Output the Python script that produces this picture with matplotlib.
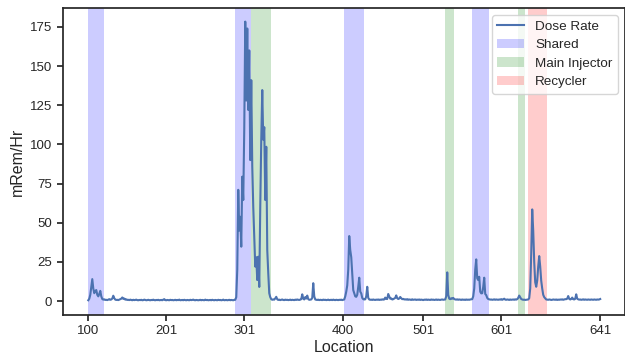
import matplotlib
matplotlib.use("Agg")
import matplotlib.pyplot as plt
import numpy as np

# ---- data ----
tick_positions = [0, 78, 156, 255, 335, 413, 512]
tick_labels = ["100", "201", "301", "400", "501", "601", "641"]

dose_rate = [
    0.5, 1.5, 4.0, 9.0, 14.0, 8.0, 5.0, 6.5, 7.0, 4.0,
    3.0, 4.5, 6.5, 3.0, 1.3, 0.9, 1.1, 0.7, 0.8, 0.6,
    0.9, 1.2, 0.8, 1.0, 1.6, 3.4, 1.8, 0.9, 0.7, 0.8,
    0.6, 0.9, 1.2, 1.5, 2.3, 1.4, 1.6, 0.9, 1.1, 0.7,
    0.8, 0.6, 0.9, 0.7, 0.5, 0.8, 0.6, 0.7, 0.9, 0.6,
    0.5, 0.7, 0.6, 0.8, 0.5, 0.6, 0.9, 0.7, 0.5, 0.6,
    0.8, 0.6, 0.5, 0.7, 0.6, 0.9, 0.6, 0.5, 0.7, 0.6,
    0.8, 0.5, 0.6, 0.7, 0.5, 0.9, 1.2, 0.6, 0.5, 0.7,
    0.6, 0.5, 0.8, 0.6, 0.7, 0.5, 0.6, 0.8, 0.5, 0.7,
    0.6, 0.9, 0.5, 0.6, 0.7, 0.5, 0.8, 0.6, 0.5, 0.7,
    0.6, 0.5, 0.8, 0.6, 0.7, 0.9, 0.6, 0.5, 0.7, 0.6,
    0.5, 0.6, 0.8, 0.5, 0.7, 0.6, 0.5, 0.9, 0.6, 0.7,
    0.5, 0.6, 0.7, 0.5, 0.8, 0.6, 0.5, 0.7, 0.6, 0.5,
    0.8, 0.6, 0.7, 0.5, 0.6, 0.9, 0.5, 0.6, 0.7, 0.5,
    0.6, 0.8, 0.5, 0.7, 0.6, 0.5, 0.7, 0.8, 2.5, 20.0,
    71.0, 45.0, 53.8, 34.7, 79.4, 64.5, 110.0, 178.4, 128.0, 174.0,
    122.0, 160.0, 90.0, 141.0, 86.0, 60.0, 40.0, 22.0, 28.0, 13.4,
    28.3, 9.0, 60.0, 103.0, 134.7, 103.0, 111.0, 64.5, 98.5, 32.6,
    17.9, 5.0, 2.5, 1.2, 0.8, 1.0, 0.9, 1.7, 2.7, 1.1,
    0.7, 0.9, 0.6, 0.8, 1.0, 0.7, 0.6, 0.9, 0.7, 0.8,
    0.6, 0.7, 0.9, 0.6, 0.8, 0.7, 0.6, 0.9, 0.7, 1.0,
    0.8, 0.7, 0.9, 1.2, 4.3, 1.5, 1.0, 2.5, 1.6, 3.5,
    1.2, 0.8, 0.9, 1.0, 2.0, 11.4, 3.0, 1.0, 0.8, 0.7,
    0.9, 0.6, 0.8, 0.7, 0.6, 0.9, 0.7, 0.8, 0.6, 0.7,
    0.9, 0.6, 0.7, 0.8, 0.6, 0.9, 0.7, 0.6, 0.8, 0.7,
    0.6, 0.8, 0.7, 0.9, 0.6, 0.8, 1.0, 3.0, 6.0, 10.0,
    20.0, 41.5, 32.6, 28.0, 17.9, 7.0, 5.0, 3.0, 2.7, 4.0,
    9.0, 14.9, 6.0, 4.9, 2.0, 1.2, 1.0, 1.1, 3.0, 9.1,
    2.0, 1.0, 0.8, 0.9, 0.7, 1.0, 0.8, 0.7, 0.9, 0.8,
    1.0, 0.7, 0.9, 0.8, 1.1, 0.9, 1.0, 2.2, 1.4, 1.3,
    4.5, 3.0, 1.5, 1.7, 1.0, 1.2, 1.6, 2.0, 3.6, 1.8,
    1.3, 1.6, 2.6, 1.8, 1.2, 1.4, 1.0, 1.1, 0.9, 1.2,
    0.8, 1.0, 0.9, 0.7, 1.1, 0.8, 0.9, 1.0, 0.7, 0.9,
    0.8, 1.0, 0.7, 0.9, 0.8, 0.6, 0.9, 0.8, 1.0, 0.7,
    0.9, 0.8, 0.7, 1.0, 0.8, 0.9, 0.7, 0.8, 1.0, 0.7,
    0.9, 0.8, 0.7, 0.9, 1.0, 0.8, 0.9, 1.0, 3.0, 18.3,
    4.0, 1.5, 1.2, 1.8, 1.5, 2.0, 1.3, 1.0, 0.9, 1.1,
    0.8, 1.0, 0.9, 0.7, 1.0, 0.8, 0.9, 0.7, 1.0, 0.8,
    0.9, 0.8, 1.0, 1.1, 1.2, 3.0, 8.0, 20.0, 26.6, 14.5,
    13.4, 15.5, 6.0, 4.9, 5.0, 9.0, 14.9, 4.5, 3.8, 2.0,
    1.3, 1.1, 0.9, 1.0, 0.8, 0.9, 1.1, 0.8, 1.0, 0.9,
    0.8, 1.0, 0.9, 1.2, 0.8, 1.1, 1.5, 0.9, 0.8, 1.0,
    0.9, 0.7, 1.0, 0.8, 0.9, 1.0, 0.8, 1.1, 0.9, 1.2,
    2.0, 3.5, 2.4, 1.3, 1.0, 0.8, 0.9, 0.7, 0.8, 0.9,
    1.0, 1.8, 8.0, 30.0, 58.5, 45.0, 25.0, 12.0, 9.1, 13.0,
    22.0, 28.7, 22.0, 13.0, 8.0, 4.0, 2.5, 1.7, 1.0, 0.9,
    0.8, 1.0, 0.9, 0.7, 0.8, 1.0, 0.9, 0.8, 1.0, 0.7,
    0.9, 0.8, 1.0, 0.9, 1.1, 0.8, 1.0, 1.2, 1.2, 1.5,
    3.2, 1.4, 1.0, 1.3, 2.2, 1.2, 1.0, 1.4, 4.3, 1.5,
    1.1, 0.9, 1.0, 0.8, 0.9, 1.1, 0.8, 1.0, 0.9, 0.8,
    1.0, 0.9, 0.8, 1.0, 0.9, 0.8, 1.0, 0.9, 0.8, 1.0,
    0.9, 1.0, 1.3,
]

shared_spans = [(0, 16), (147, 163.2), (255.7, 276), (383.7, 400.3)]
main_injector_spans = [(163.2, 182.7), (356.5, 365.5), (429.5, 437.2)]
recycler_spans = [(439.6, 458.4)]

# ---- style ----
plt.rcParams["font.family"] = ["Liberation Sans", "DejaVu Sans"]
dark = "#262626"

fig = plt.figure(figsize=(6.25, 3.59), dpi=100)
ax = fig.add_axes([0.1003, 0.1226, 0.8989, 0.8543])

x = np.arange(len(dose_rate))
ax.plot(x, dose_rate, color="#4C72B0", lw=1.5, label="Dose Rate", zorder=3)

for i, (a, b) in enumerate(shared_spans):
    ax.axvspan(a, b, color=(0, 0, 1), alpha=0.2, lw=0,
               label="Shared" if i == 0 else None)
for i, (a, b) in enumerate(main_injector_spans):
    ax.axvspan(a, b, color=(0, 0.5, 0), alpha=0.2, lw=0,
               label="Main Injector" if i == 0 else None)
for i, (a, b) in enumerate(recycler_spans):
    ax.axvspan(a, b, color=(1, 0, 0), alpha=0.2, lw=0,
               label="Recycler" if i == 0 else None)

ax.set_xlim(-25.6, 536.3)
ax.set_ylim(-8.9, 186.9)
ax.set_xticks(tick_positions)
ax.set_xticklabels(tick_labels)
ax.set_yticks([0, 25, 50, 75, 100, 125, 150, 175])

for s in ax.spines.values():
    s.set_color(dark)
    s.set_linewidth(1.25)
ax.tick_params(axis="both", direction="out", length=4.5, width=1.25,
               color=dark, labelcolor=dark, labelsize=9.5, pad=3)

ax.set_xlabel("Location", fontsize=11.5, color=dark, labelpad=2)
ax.set_ylabel("mRem/Hr", fontsize=11.5, color=dark, labelpad=4)

leg = ax.legend(loc="upper right", fontsize=9.7, framealpha=0.8,
                edgecolor="0.8", fancybox=True, labelspacing=0.45)
for t in leg.get_texts():
    t.set_color(dark)

fig.savefig("out.png", dpi=100)
